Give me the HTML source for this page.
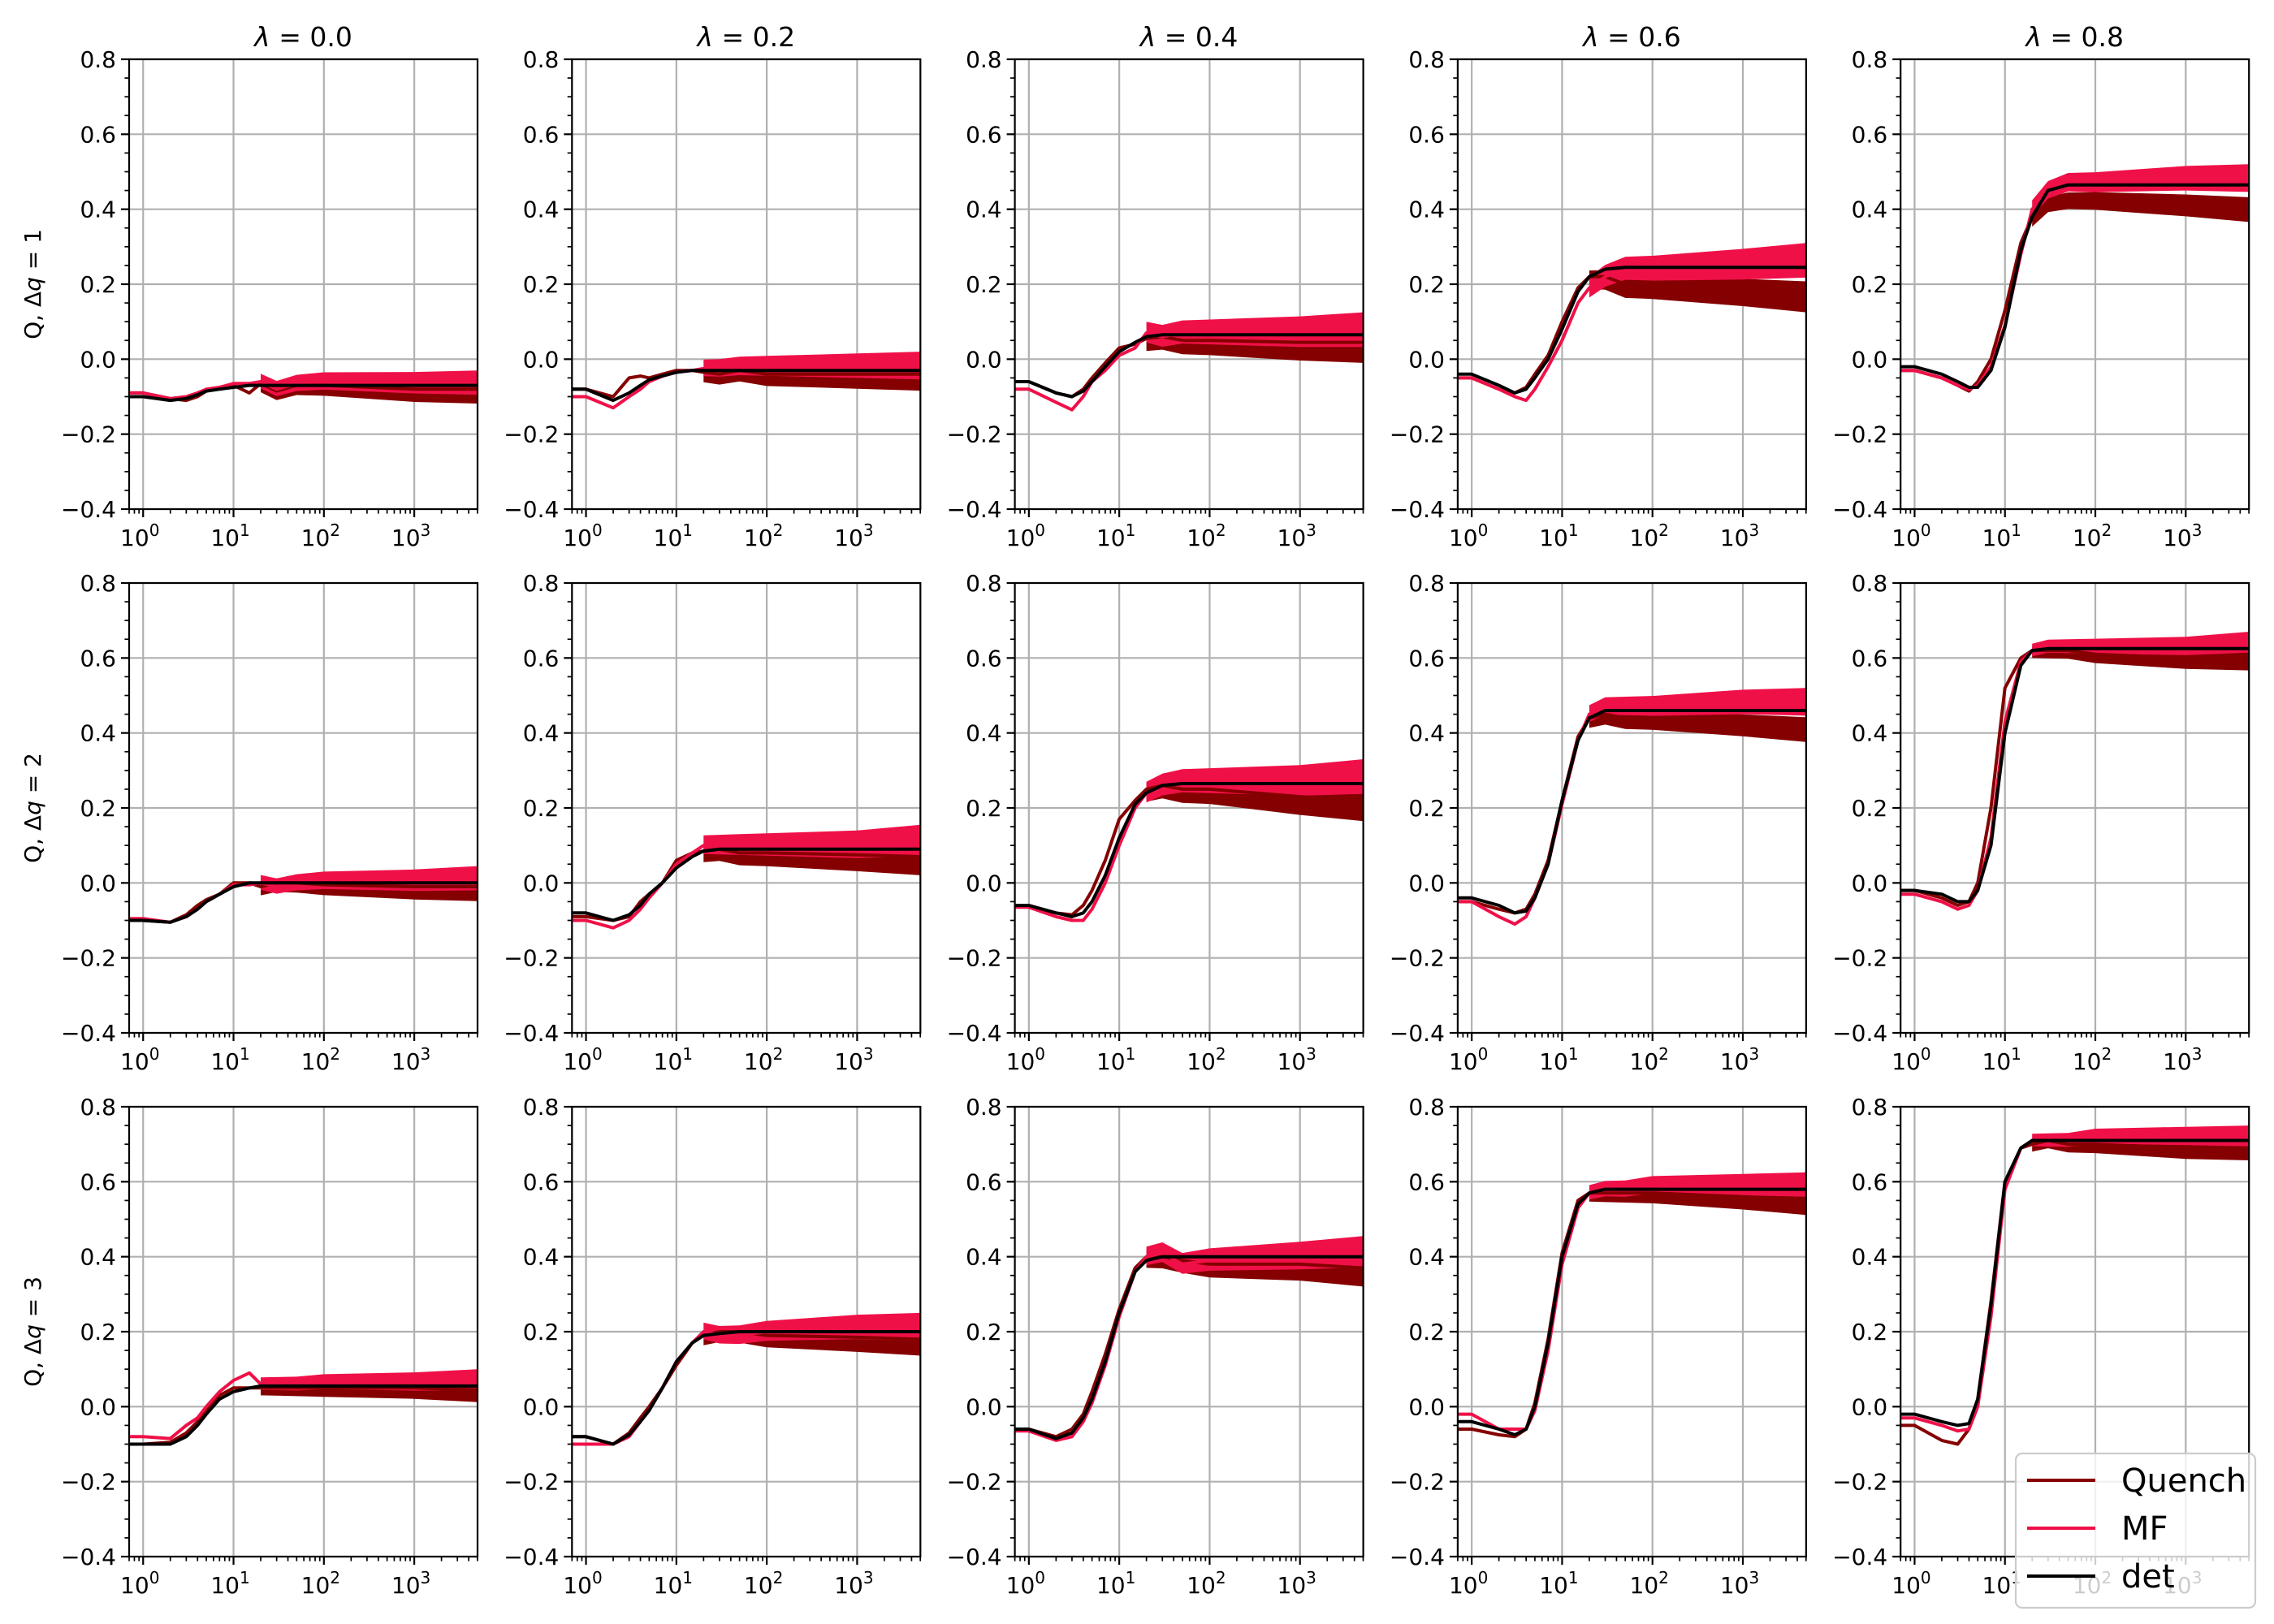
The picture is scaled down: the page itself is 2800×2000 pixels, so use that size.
<!DOCTYPE html>
<html><head><meta charset="utf-8">
<style>
html,body{margin:0;padding:0;background:#fff;}
svg{display:block;font-family:"DejaVu Sans","Liberation Sans",sans-serif;}
</style></head>
<body>
<svg id="fig" width="2800" height="2000" viewBox="0 0 2800 2000" xmlns="http://www.w3.org/2000/svg">
<rect width="2800" height="2000" fill="#fff"/>
</svg>
<script>
// ---- data ----
const lambdas = ["0.0","0.2","0.4","0.6","0.8"];
const dqs = ["1","2","3"];
const times = [0.7,1,2,3,4,5,7,10,15,20,30,50,100,1000,5000];
// det[row][col]
const det = [
 [[-0.10,-0.10,-0.11,-0.105,-0.095,-0.085,-0.08,-0.075,-0.07,-0.07,-0.07,-0.07,-0.07,-0.07,-0.07],
  [-0.08,-0.08,-0.11,-0.09,-0.07,-0.055,-0.045,-0.035,-0.03,-0.03,-0.03,-0.03,-0.03,-0.03,-0.03],
  [-0.06,-0.06,-0.09,-0.10,-0.085,-0.06,-0.02,0.02,0.045,0.06,0.065,0.065,0.065,0.065,0.065],
  [-0.04,-0.04,-0.07,-0.09,-0.08,-0.05,0.0,0.08,0.18,0.22,0.24,0.245,0.245,0.245,0.245],
  [-0.02,-0.02,-0.04,-0.06,-0.075,-0.075,-0.03,0.085,0.29,0.38,0.45,0.465,0.465,0.465,0.465]],
 [[-0.10,-0.10,-0.105,-0.09,-0.07,-0.05,-0.03,-0.01,0.0,0.0,0.0,0.0,0.0,0.0,0.0],
  [-0.08,-0.08,-0.10,-0.085,-0.06,-0.03,0.0,0.04,0.07,0.085,0.09,0.09,0.09,0.09,0.09],
  [-0.06,-0.06,-0.08,-0.09,-0.08,-0.05,0.02,0.12,0.21,0.24,0.26,0.265,0.265,0.265,0.265],
  [-0.04,-0.04,-0.06,-0.08,-0.075,-0.04,0.05,0.22,0.38,0.44,0.46,0.46,0.46,0.46,0.46],
  [-0.02,-0.02,-0.03,-0.05,-0.05,-0.02,0.10,0.40,0.58,0.62,0.625,0.625,0.625,0.625,0.625]],
 [[-0.10,-0.10,-0.10,-0.08,-0.05,-0.02,0.02,0.04,0.05,0.055,0.055,0.055,0.055,0.055,0.055],
  [-0.08,-0.08,-0.10,-0.075,-0.04,-0.01,0.05,0.12,0.17,0.19,0.195,0.20,0.20,0.20,0.20],
  [-0.06,-0.06,-0.085,-0.07,-0.03,0.02,0.12,0.25,0.36,0.39,0.40,0.40,0.40,0.40,0.40],
  [-0.04,-0.04,-0.06,-0.075,-0.06,0.0,0.17,0.40,0.54,0.57,0.58,0.58,0.58,0.58,0.58],
  [-0.02,-0.02,-0.04,-0.05,-0.045,0.02,0.27,0.60,0.69,0.71,0.71,0.71,0.71,0.71,0.71]]
];
const quench = [
 [[-0.09,-0.09,-0.105,-0.11,-0.10,-0.085,-0.075,-0.07,-0.09,-0.065,-0.085,-0.07,-0.07,-0.08,-0.08],
  [-0.08,-0.08,-0.10,-0.05,-0.045,-0.05,-0.04,-0.03,-0.03,-0.035,-0.04,-0.03,-0.04,-0.04,-0.04],
  [-0.06,-0.06,-0.09,-0.10,-0.08,-0.05,-0.01,0.03,0.04,0.055,0.06,0.05,0.05,0.045,0.045],
  [-0.05,-0.05,-0.08,-0.09,-0.075,-0.04,0.01,0.10,0.19,0.22,0.22,0.20,0.20,0.19,0.18],
  [-0.03,-0.03,-0.05,-0.07,-0.085,-0.06,0.0,0.13,0.31,0.38,0.42,0.43,0.43,0.42,0.41]],
 [[-0.10,-0.10,-0.105,-0.085,-0.06,-0.045,-0.03,0.0,0.0,-0.01,0.0,0.0,-0.005,-0.01,-0.01],
  [-0.09,-0.09,-0.10,-0.09,-0.05,-0.03,0.0,0.06,0.08,0.085,0.09,0.08,0.08,0.075,0.07],
  [-0.06,-0.06,-0.08,-0.085,-0.06,-0.02,0.06,0.17,0.22,0.25,0.26,0.25,0.25,0.23,0.22],
  [-0.05,-0.05,-0.07,-0.08,-0.07,-0.03,0.06,0.22,0.39,0.44,0.45,0.44,0.44,0.43,0.42],
  [-0.02,-0.02,-0.04,-0.06,-0.05,0.0,0.20,0.52,0.60,0.62,0.62,0.62,0.61,0.60,0.60]],
 [[-0.10,-0.10,-0.095,-0.07,-0.04,-0.01,0.03,0.05,0.05,0.05,0.05,0.05,0.05,0.05,0.045],
  [-0.08,-0.08,-0.10,-0.07,-0.03,0.0,0.05,0.11,0.17,0.19,0.20,0.20,0.19,0.185,0.18],
  [-0.06,-0.06,-0.08,-0.06,-0.02,0.04,0.14,0.26,0.37,0.40,0.40,0.39,0.38,0.38,0.37],
  [-0.06,-0.06,-0.075,-0.08,-0.06,0.01,0.18,0.41,0.55,0.57,0.57,0.57,0.57,0.56,0.55],
  [-0.05,-0.05,-0.09,-0.10,-0.06,0.02,0.28,0.60,0.69,0.70,0.71,0.70,0.70,0.69,0.69]]
];
const mf = [
 [[-0.09,-0.09,-0.105,-0.10,-0.09,-0.08,-0.075,-0.065,-0.065,-0.06,-0.08,-0.065,-0.06,-0.065,-0.065],
  [-0.10,-0.10,-0.13,-0.10,-0.08,-0.06,-0.045,-0.035,-0.03,-0.025,-0.025,-0.02,-0.02,-0.02,-0.02],
  [-0.08,-0.08,-0.115,-0.135,-0.10,-0.06,-0.03,0.01,0.03,0.07,0.06,0.07,0.07,0.07,0.075],
  [-0.05,-0.05,-0.08,-0.10,-0.11,-0.08,-0.02,0.05,0.15,0.19,0.22,0.24,0.24,0.25,0.26],
  [-0.03,-0.03,-0.05,-0.07,-0.08,-0.07,-0.02,0.09,0.28,0.40,0.45,0.47,0.47,0.48,0.48]],
 [[-0.095,-0.095,-0.105,-0.09,-0.07,-0.05,-0.03,-0.005,-0.005,0.0,-0.01,0.0,0.005,0.005,0.01],
  [-0.10,-0.10,-0.12,-0.10,-0.07,-0.04,0.0,0.05,0.08,0.10,0.10,0.10,0.10,0.10,0.11],
  [-0.065,-0.065,-0.09,-0.10,-0.10,-0.07,0.0,0.10,0.20,0.24,0.26,0.27,0.27,0.27,0.28],
  [-0.05,-0.05,-0.09,-0.11,-0.09,-0.04,0.05,0.21,0.38,0.45,0.47,0.47,0.47,0.48,0.48],
  [-0.03,-0.03,-0.05,-0.07,-0.06,-0.02,0.12,0.43,0.59,0.62,0.63,0.63,0.63,0.63,0.64]],
 [[-0.08,-0.08,-0.085,-0.05,-0.03,0.0,0.04,0.07,0.09,0.06,0.06,0.06,0.065,0.065,0.07],
  [-0.10,-0.10,-0.10,-0.08,-0.04,-0.01,0.05,0.12,0.17,0.20,0.19,0.19,0.20,0.21,0.21],
  [-0.065,-0.065,-0.09,-0.08,-0.04,0.01,0.11,0.24,0.36,0.40,0.41,0.38,0.39,0.40,0.41],
  [-0.02,-0.02,-0.06,-0.06,-0.06,-0.01,0.15,0.38,0.53,0.57,0.58,0.58,0.59,0.59,0.59],
  [-0.03,-0.03,-0.05,-0.065,-0.06,0.0,0.24,0.58,0.69,0.71,0.71,0.71,0.72,0.72,0.72]]
];
// fluctuation half-width at late times, per panel
const spread = [
 [0.035,0.04,0.05,0.05,0.04],
 [0.035,0.045,0.05,0.04,0.03],
 [0.03,0.04,0.045,0.035,0.03]
];
const yTicks = [-0.4,-0.2,0.0,0.2,0.4,0.6,0.8];
const yTickLabels = ["\u22120.4","\u22120.2","0.0","0.2","0.4","0.6","0.8"];
const xDecades = [0,1,2,3];

// ---- layout ----
const NS = "http://www.w3.org/2000/svg";
const svg = document.getElementById('fig');
const L0 = 159, CSTEP = 545.3, W = 429, T0 = 73, RSTEP = 645, H = 554;
const LMIN = -0.155, LMAX = 3.70, YMIN = -0.4, YMAX = 0.8;
const QC = "#850000", MC = "#f01048";

function mk(tag, attrs, parent){
  const e = document.createElementNS(NS, tag);
  for (const k in attrs) e.setAttribute(k, attrs[k]);
  (parent||svg).appendChild(e);
  return e;
}

for (let r = 0; r < 3; r++) {
  for (let c = 0; c < 5; c++) {
    const left = L0 + c*CSTEP, top = T0 + r*RSTEP;
    const X = t => left + (Math.log10(t) - LMIN)/(LMAX - LMIN)*W;
    const Y = v => top + (YMAX - v)/(YMAX - YMIN)*H;
    const g = mk('g', {});
    
    
    const clipId = 'clip' + r + c;
    const cp = mk('clipPath', {id: clipId}, g);
    mk('rect', {x:left, y:top, width:W, height:H}, cp);

    const grid = mk('g', {stroke:"#b0b0b0", 'stroke-width':2.2}, g);
    
    
    yTicks.forEach(v => mk('line', {x1:left, x2:left+W, y1:Y(v), y2:Y(v)}, grid));
    xDecades.forEach(d => mk('line', {x1:X(Math.pow(10,d)), x2:X(Math.pow(10,d)), y1:top, y2:top+H}, grid));

    const dg = mk('g', {'clip-path':'url(#'+clipId+')'}, g);
    const iStart = times.indexOf(20);
    const ramp = t => 0.6 + 0.4*(Math.log10(t)-Math.log10(20))/(Math.log10(5000)-Math.log10(20));
    const s = spread[r][c];
    let up = [], dn = [];
    for (let i = iStart; i < times.length; i++) {
      const t = times[i], f = ramp(t);
      up.push(X(t).toFixed(1)+','+Y(quench[r][c][i] + 0.55*s*f).toFixed(1));
      dn.unshift(X(t).toFixed(1)+','+Y(quench[r][c][i] - 1.1*s*f).toFixed(1));
    }
    const qb = mk('polygon', {points: up.concat(dn).join(' '), fill:QC}, dg);
    
    
    up = []; dn = [];
    for (let i = iStart; i < times.length; i++) {
      const t = times[i], f = ramp(t);
      up.push(X(t).toFixed(1)+','+Y(mf[r][c][i] + s*f).toFixed(1));
      dn.unshift(X(t).toFixed(1)+','+Y(mf[r][c][i] - 0.85*s*f).toFixed(1));
    }
    const mb = mk('polygon', {points: up.concat(dn).join(' '), fill:MC}, dg);
    
    

    const series = [[quench, QC, 'quench-line'], [mf, MC, 'mf-line'], [det, '#000', 'det-line']];
    series.forEach(([arr, col, nm]) => {
      const pts = times.map((t,i) => X(t).toFixed(1)+','+Y(arr[r][c][i]).toFixed(1)).join(' ');
      const pl = mk('polyline', {points:pts, fill:'none', stroke:col, 'stroke-width':4, 'stroke-linejoin':'round'}, dg);
      
      
    });

    const fr = mk('rect', {x:left, y:top, width:W, height:H, fill:'none', stroke:'#000', 'stroke-width':2.2}, g);
    
    

    const yax = mk('g', {}, g);
    
    
    for (let k = 0; k <= 24; k++) {
      const v = YMIN + k*0.05;
      const major = (k % 4 === 0);
      mk('line', {x1:left, x2:left-(major?10:5.6), y1:Y(v), y2:Y(v), stroke:'#000', 'stroke-width':major?2.2:1.7}, yax);
    }
    yTicks.forEach((v,i) => {
      const tx = mk('text', {x:left-16, y:Y(v)+10, 'text-anchor':'end', 'font-size':28, fill:'#000'}, yax);
      tx.textContent = yTickLabels[i];
      
      
    });

    const xax = mk('g', {}, g);
    
    
    for (let d = -1; d <= 3; d++) {
      for (let m = 1; m <= 9; m++) {
        const t = m*Math.pow(10,d);
        const lt = Math.log10(t);
        if (lt < LMIN - 1e-9 || lt > LMAX + 1e-9) continue;
        const major = (m === 1);
        mk('line', {x1:X(t), x2:X(t), y1:top+H, y2:top+H+(major?10:5.6), stroke:'#000', 'stroke-width':major?2.2:1.7}, xax);
      }
    }
    xDecades.forEach(d => {
      const tx = mk('text', {x:X(Math.pow(10,d))-4, y:top+H+45, 'text-anchor':'middle', 'font-size':28, fill:'#000'}, xax);
      
      
      tx.appendChild(document.createTextNode('10'));
      const sup = mk('tspan', {'font-size':20, dy:-12}, tx);
      sup.textContent = String(d);
    });

    if (r === 0) {
      const tt = mk('text', {x:left+W/2, y:top-16, 'text-anchor':'middle', 'font-size':33, fill:'#000'}, g);
      
      
      const lam = mk('tspan', {'font-style':'italic'}, tt); lam.textContent = 'λ';
      tt.appendChild(document.createTextNode(' = ' + lambdas[c]));
    }
    if (c === 0) {
      const cy = top + H/2;
      const yl = mk('text', {x:0, y:0, transform:'translate(50,'+cy+') rotate(-90)', 'text-anchor':'middle', 'font-size':28, fill:'#000'}, g);
      
      
      yl.appendChild(document.createTextNode('Q, Δ'));
      const q = mk('tspan', {'font-style':'italic'}, yl); q.textContent = 'q';
      yl.appendChild(document.createTextNode(' = ' + dqs[r]));
    }
  }
}

const lg = mk('g', {});


mk('rect', {x:2482, y:1790, width:295, height:190, rx:8, fill:'#fff', 'fill-opacity':0.8, stroke:'#cccccc', 'stroke-width':2.2}, lg);
[["Quench", QC, 1823], ["MF", MC, 1882], ["det", "#000", 1941]].forEach(([lab, col, y]) => {
  const e = mk('g', {}, lg);
  
  
  mk('line', {x1:2496, x2:2580, y1:y, y2:y, stroke:col, 'stroke-width':4}, e);
  const t = mk('text', {x:2612, y:y+14, 'font-size':40, fill:'#000'}, e);
  t.textContent = lab;
});
</script>
</body></html>
